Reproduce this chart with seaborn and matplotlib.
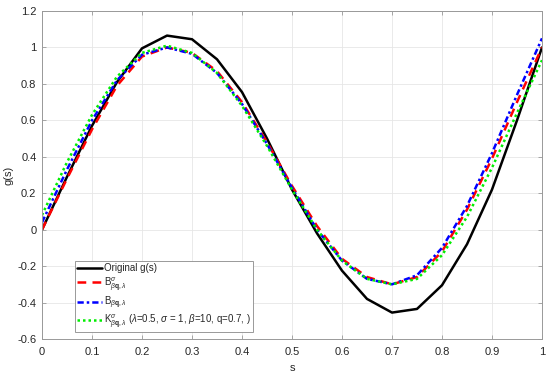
import numpy as np
import pandas as pd
import matplotlib
matplotlib.use("Agg")
import matplotlib.pyplot as plt
import seaborn as sns

s = [0.0, 0.05, 0.1, 0.15, 0.2, 0.25, 0.3, 0.35, 0.4, 0.45, 0.5,
     0.55, 0.6, 0.65, 0.7, 0.75, 0.8, 0.85, 0.9, 0.95, 1.0]
g_orig = [0.0, 0.29, 0.57, 0.81, 0.995, 1.065, 1.045, 0.935, 0.755, 0.50, 0.22,
          -0.02, -0.225, -0.38, -0.455, -0.435, -0.305, -0.08, 0.22, 0.60, 1.0]
b_sigma = [0.0, 0.28, 0.55, 0.79, 0.95, 1.0, 0.97, 0.87, 0.70, 0.48, 0.24,
           0.02, -0.16, -0.26, -0.30, -0.26, -0.12, 0.11, 0.39, 0.70, 1.0]
b_plain = [0.04, 0.33, 0.60, 0.82, 0.96, 1.0, 0.965, 0.86, 0.69, 0.47, 0.23,
           0.0, -0.17, -0.27, -0.30, -0.25, -0.10, 0.13, 0.42, 0.74, 1.05]
k_sigma = [0.08, 0.37, 0.63, 0.84, 0.97, 1.01, 0.97, 0.86, 0.68, 0.46, 0.22,
           0.0, -0.17, -0.27, -0.30, -0.27, -0.14, 0.07, 0.34, 0.64, 0.93]

labels = ["Original g(s)",
          r"B$^{\sigma}_{\beta\mathbf{q},\lambda}$",
          r"B$_{\beta\mathbf{q},\lambda}$",
          r"K$^{\sigma}_{\beta\mathbf{q},\lambda}$ ($\lambda$=0.5, $\sigma$ = 1, $\beta$=10, q=0.7, )"]

sns.set_theme(style="whitegrid")
plt.rcParams['font.family'] = ['Liberation Sans', 'DejaVu Sans']
plt.rcParams['mathtext.fontset'] = 'custom'
plt.rcParams['mathtext.rm'] = 'Liberation Sans'
plt.rcParams['mathtext.it'] = 'Liberation Sans:italic'
plt.rcParams['mathtext.bf'] = 'Liberation Sans:bold'

fig = plt.figure(figsize=(5.5, 3.76), dpi=100)
ax = fig.add_axes([42/550, 1 - 339/376, 500/550, 328/376])

series = [(g_orig, 'black', '-'), (b_sigma, 'red', (0, (3.5, 2.5))),
          (b_plain, 'blue', (0, (2.5, 1.2, 1, 1.2))), (k_sigma, '#00ee00', (0, (1, 1.2)))]
for (vals, col, ls), lab in zip(series, labels):
    df = pd.DataFrame({'s': s, 'g': vals})
    sns.lineplot(data=df, x='s', y='g', ax=ax, color=col, linewidth=1.8,
                 linestyle=ls, label=lab)

ax.set_xlim(0, 1)
ax.set_ylim(-0.6, 1.2)
ax.set_xticks(np.arange(0, 1.01, 0.1))
ax.set_xticklabels(['0', '0.1', '0.2', '0.3', '0.4', '0.5', '0.6', '0.7', '0.8', '0.9', '1'])
ax.set_yticks(np.arange(-0.6, 1.21, 0.2))
ax.set_yticklabels(['-0.6', '-0.4', '-0.2', '0', '0.2', '0.4', '0.6', '0.8', '1', '1.2'])
ax.set_xlabel('s', fontsize=8, labelpad=4, color='#262626')
ax.set_ylabel('g(s)', fontsize=8, labelpad=3, color='#262626')
ax.tick_params(axis='both', labelsize=8, direction='in', length=3, color='#999999',
               labelcolor='#262626', top=True, right=True, bottom=True, left=True, width=0.6)
ax.tick_params(axis='x', pad=6)
ax.tick_params(axis='y', pad=4)
ax.grid(True, color='#e6e6e6', linewidth=0.6)
for sp in ax.spines.values():
    sp.set_color('#999999')
    sp.set_linewidth(0.7)
ax.set_facecolor('white')

leg = ax.legend(loc='lower left', bbox_to_anchor=(0.066, 0.021), fontsize=7,
                frameon=True, fancybox=False, edgecolor='#999999', framealpha=1,
                handlelength=2.6, borderpad=0.2, labelspacing=0.15, handletextpad=0.2,
                borderaxespad=0)
leg.get_frame().set_linewidth(0.7)

fig.savefig('out.png', dpi=100)
